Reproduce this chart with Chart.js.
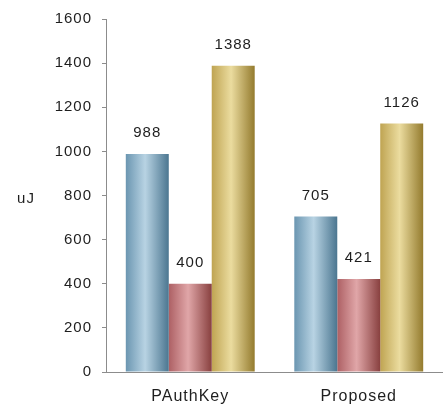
<!DOCTYPE html>
<html>
<head>
<meta charset="utf-8">
<script src="https://cdn.jsdelivr.net/npm/chart.js@4/dist/chart.umd.min.js"></script>
<style>
  html, body { margin: 0; padding: 0; background: #fff; }
  #wrap { width: 443px; height: 407px; }
</style>
</head>
<body>
<div id="wrap"><canvas id="chart"></canvas></div>
<script>
// ── Data ─────────────────────────────────────────────────────────────────────
const categories = ['PAuthKey', 'Proposed'];
const seriesA = [988, 705];    // blue
const seriesB = [400, 421];    // red
const seriesC = [1388, 1126];  // gold
const yTicks = [0, 200, 400, 600, 800, 1000, 1200, 1400, 1600];
const yLabel = 'uJ';

// cylinder shading: left, middle, right
const shades = [
  ['#6b96b1', '#b8d3e3', '#4b7690'],
  ['#ad6064', '#e0a6a8', '#88403f'],
  ['#bfa452', '#ebdc9f', '#947b2e'],
];

const FONT = "'Liberation Sans', Arial, sans-serif";
const TEXT = '#1e1e1e';
const AXIS = '#8c8c8c';

// ── Plugins ───────────────────────────────────────────────────────────────────
const spacing = {
  id: 'spacing',
  beforeUpdate(chart) { chart.ctx.letterSpacing = '1px'; },
  beforeDraw(chart) { chart.ctx.letterSpacing = '1px'; }
};

const cylinderFill = {
  id: 'cylinderFill',
  beforeDatasetsDraw(chart) {
    const ctx = chart.ctx;
    chart.data.datasets.forEach((ds, i) => {
      const s = shades[i];
      chart.getDatasetMeta(i).data.forEach(bar => {
        const x0 = bar.x - bar.width / 2, x1 = bar.x + bar.width / 2;
        const g = ctx.createLinearGradient(x0, 0, x1, 0);
        g.addColorStop(0, s[0]);
        g.addColorStop(0.45, s[1]);
        g.addColorStop(1, s[2]);
        bar.options = Object.assign({}, bar.options, { backgroundColor: g });
      });
    });
  }
};

const valueLabels = {
  id: 'valueLabels',
  afterDatasetsDraw(chart) {
    const ctx = chart.ctx;
    ctx.save();
    ctx.font = `15px ${FONT}`;
    ctx.fillStyle = TEXT;
    ctx.textAlign = 'center';
    ctx.textBaseline = 'middle';
    chart.data.datasets.forEach((ds, i) => {
      chart.getDatasetMeta(i).data.forEach((bar, j) => {
        ctx.fillText(String(ds.data[j]), bar.x, bar.y - 21);
      });
    });
    ctx.restore();
  }
};

const sideLabel = {
  id: 'sideLabel',
  afterDraw(chart) {
    const ctx = chart.ctx;
    const a = chart.chartArea;
    ctx.save();
    ctx.font = `15px ${FONT}`;
    ctx.fillStyle = TEXT;
    ctx.textAlign = 'center';
    ctx.textBaseline = 'middle';
    ctx.fillText(yLabel, 26, (a.top + a.bottom) / 2 + 3);
    ctx.restore();
  }
};

// ── Chart ─────────────────────────────────────────────────────────────────────
new Chart(document.getElementById('chart'), {
  type: 'bar',
  data: {
    labels: categories,
    datasets: [seriesA, seriesB, seriesC].map((d, i) => ({
      data: d,
      backgroundColor: shades[i][1],
      borderWidth: 0,
      barPercentage: 1,
      categoryPercentage: 0.765,
    }))
  },
  options: {
    responsive: true,
    maintainAspectRatio: false,
    animation: false,
    layout: { padding: { top: 14, right: 0, left: 0, bottom: 0 } },
    plugins: { legend: { display: false }, tooltip: { enabled: false } },
    scales: {
      y: {
        min: 0,
        max: 1600,
        afterBuildTicks: s => { s.ticks = yTicks.map(v => ({ value: v })); },
        afterFit: s => { s.width = 106; },
        border: { color: AXIS, width: 1 },
        grid: { drawOnChartArea: false, drawTicks: true, tickLength: 4, color: AXIS },
        ticks: { color: TEXT, font: { family: FONT, size: 15 }, padding: 10, callback: v => String(v) }
      },
      x: {
        afterFit: s => { s.height = 35; },
        border: { color: AXIS, width: 1 },
        grid: { display: false, drawTicks: false },
        ticks: { color: TEXT, font: { family: FONT, size: 16 }, padding: 15 }
      }
    }
  },
  plugins: [spacing, cylinderFill, valueLabels, sideLabel]
});
</script>
</body>
</html>
